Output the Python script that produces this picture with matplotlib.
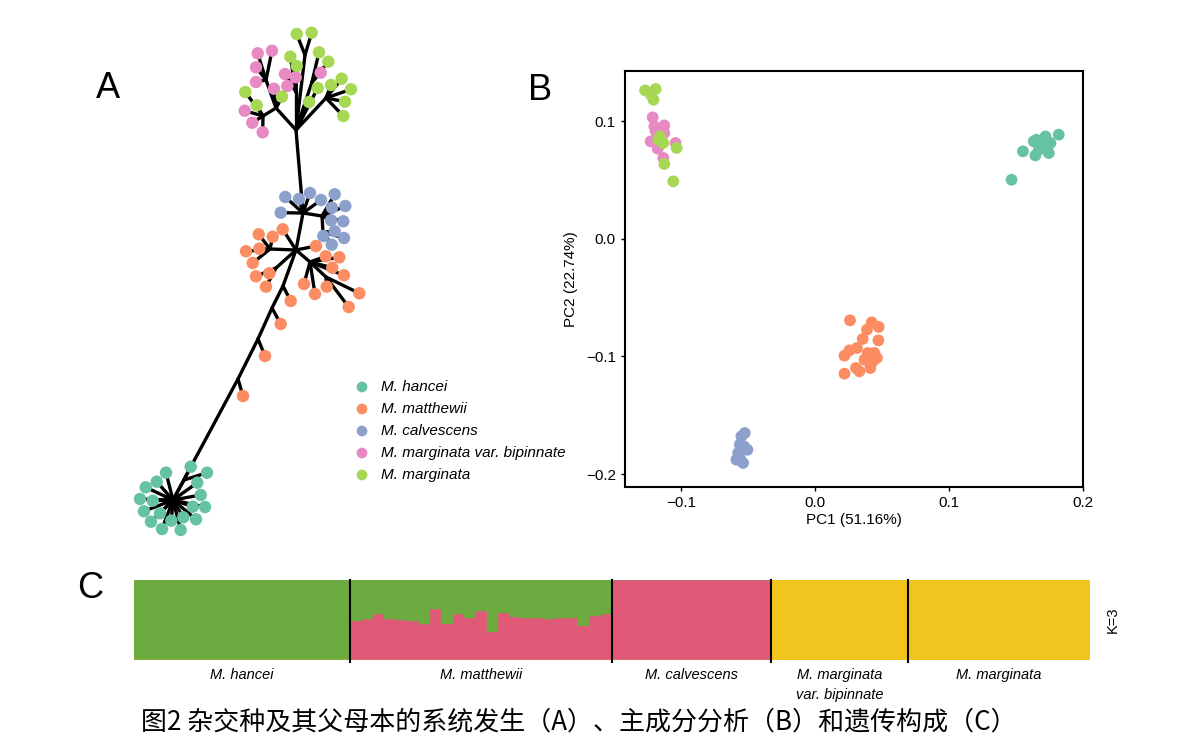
import matplotlib
matplotlib.use("Agg")
import matplotlib.pyplot as plt
import numpy as np

plt.rcParams['font.family'] = ['Liberation Sans', 'Noto Sans CJK SC', 'DejaVu Sans']

# 物种与配色
species = ["M. hancei", "M. matthewii", "M. calvescens",
           "M. marginata var. bipinnate", "M. marginata"]
colors = ["#66c2a5", "#fc8d62", "#8da0cb", "#e78ac3", "#a6d854"]

# ---- A: 系统发育树 (布局坐标) ----
node_names = ["G", "n4", "n3", "n2", "n1", "O", "B", "T", "t1", "t2", "t3",
              "t4", "t5", "t6", "t7", "b1", "b2", "o1", "o2", "o3", "o4", "g1"]
node_x = [173, 238, 258, 272, 283, 296, 303, 296, 305, 296, 326,
          276, 266, 263, 312, 322, 323, 270, 276, 310, 326, 184]
node_y = [500, 379, 339, 308, 286, 250, 213, 130, 55, 92, 98,
          108, 80, 116, 82, 216, 232, 249, 268, 262, 277, 480]
node_parent = [None, "G", "n4", "n3", "n2", "n1", "O", "B", "T", "T", "T",
               "T", "t4", "t4", "T", "B", "b1", "O", "O", "O", "o3", "G"]

tips_hancei = [(190.7, 466.7, "g1"), (207, 472.7, "g1"), (166, 472.7, "G"),
               (156.7, 481.7, "G"), (197.3, 482.7, "G"), (145.7, 487.3, "G"),
               (200.7, 495, "G"), (140, 499, "G"), (152.7, 500.7, "G"),
               (192.7, 506.7, "G"), (205, 507, "G"), (144, 511.3, "G"),
               (160, 513.3, "G"), (183.3, 517.3, "G"), (196, 519.3, "G"),
               (151, 521.7, "G"), (171.3, 520.7, "G"), (162, 529, "G"),
               (180.7, 530, "G")]
tips_matthewii = [(258.7, 234.3, "o1"), (272.7, 236.7, "o1"), (282.7, 229.3, "O"),
                  (259.3, 248.7, "o1"), (246, 251.3, "o1"), (252.7, 263, "o1"),
                  (256, 276.3, "o2"), (269.3, 273.3, "o2"), (266, 286.7, "o2"),
                  (290.7, 301, "n1"), (316, 246, "O"), (325.7, 256.3, "o3"),
                  (339.3, 257.3, "o3"), (332.3, 267.7, "o3"), (344, 275.3, "o3"),
                  (304, 284, "o3"), (315, 294, "o3"), (326.7, 286.7, "o4"),
                  (359.3, 293.3, "o4"), (348.7, 307, "o4"), (280.7, 324, "n2"),
                  (265, 356, "n3"), (243, 396, "n4")]
tips_calvescens = [(285.3, 197, "B"), (299, 199, "B"), (310, 193, "B"),
                   (321, 200, "B"), (334.7, 194.3, "b1"), (280.7, 212.7, "B"),
                   (345.3, 206, "b1"), (332, 207.7, "b1"), (331, 220.3, "b1"),
                   (343.3, 221.3, "b1"), (334.7, 231.3, "b2"), (323.3, 236, "b2"),
                   (344, 238, "b2"), (331.7, 244.7, "b2")]
tips_bipinnate = [(257.7, 53.3, "t5"), (272, 50.7, "t5"), (256, 67.3, "t5"),
                  (285, 74, "t2"), (295.7, 77.3, "t2"), (320.7, 72.7, "t7"),
                  (256, 82, "t5"), (274, 88.7, "t4"), (287.3, 86, "t4"),
                  (244.7, 110.7, "t6"), (252.3, 122.7, "t6"), (262.7, 132.3, "t6")]
tips_marginata = [(296.7, 34, "t1"), (311.7, 32.7, "t1"), (319, 52.3, "t7"),
                  (290.3, 56.7, "t2"), (296.7, 66, "t2"), (328.3, 61.7, "t7"),
                  (341.7, 78.7, "t3"), (351, 89.3, "t3"), (331, 85, "t3"),
                  (345, 101.7, "t3"), (343.3, 116, "t3"), (317.7, 88, "T"),
                  (309, 102, "T"), (282, 96.7, "t4"), (245.3, 92, "t6"),
                  (256.7, 105.3, "t6")]
tree_tips = [tips_hancei, tips_matthewii, tips_calvescens, tips_bipinnate, tips_marginata]

# ---- B: PCA ----
pca_hancei_x = [0.1819, 0.1720, 0.1653, 0.1708, 0.1745, 0.1645, 0.1683, 0.1757,
                0.1552, 0.1467, 0.1671, 0.1732, 0.1633]
pca_hancei_y = [0.0884, 0.0869, 0.0841, 0.0784, 0.0728, 0.0708, 0.0813, 0.0813,
                0.0742, 0.0501, 0.0756, 0.0762, 0.0827]
pca_matthewii_x = [0.0262, 0.0424, 0.0476, 0.0389, 0.0357, 0.0474, 0.0314, 0.0258,
                   0.0221, 0.0394, 0.0444, 0.0370, 0.0431, 0.0414, 0.0221, 0.0307,
                   0.0332, 0.0463]
pca_matthewii_y = [-0.0694, -0.0711, -0.0750, -0.0773, -0.0852, -0.0864, -0.0929,
                   -0.0949, -0.0994, -0.0971, -0.0971, -0.1028, -0.1042, -0.1099,
                   -0.1147, -0.1099, -0.1127, -0.1014]
pca_calvescens_x = [-0.0523, -0.0548, -0.0560, -0.0503, -0.0572, -0.0585, -0.0535,
                    -0.0560, -0.0528]
pca_calvescens_y = [-0.1651, -0.1680, -0.1750, -0.1793, -0.1821, -0.1878, -0.1906,
                    -0.1863, -0.1765]
pca_bipinnate_x = [-0.1210, -0.1197, -0.1123, -0.1123, -0.1225, -0.1172, -0.1039,
                   -0.1130, -0.1187]
pca_bipinnate_y = [0.1031, 0.0954, 0.0963, 0.0898, 0.0827, 0.0765, 0.0813, 0.0686,
                   0.0912]
pca_marginata_x = [-0.1266, -0.1187, -0.1204, -0.1222, -0.1155, -0.1143, -0.1167,
                   -0.1130, -0.1031, -0.1123, -0.1056]
pca_marginata_y = [0.1260, 0.1272, 0.1181, 0.1223, 0.0869, 0.0827, 0.0841, 0.0813,
                   0.0771, 0.0635, 0.0487]
pca_x = [pca_hancei_x, pca_matthewii_x, pca_calvescens_x, pca_bipinnate_x, pca_marginata_x]
pca_y = [pca_hancei_y, pca_matthewii_y, pca_calvescens_y, pca_bipinnate_y, pca_marginata_y]

# ---- C: 遗传构成 (K=3) ----
struct_groups = ["M. hancei", "M. matthewii", "M. calvescens",
                 "M. marginata\nvar. bipinnate", "M. marginata"]
struct_counts = [19, 23, 14, 12, 16]
matthewii_pink = [0.483, 0.509, 0.580, 0.513, 0.500, 0.487, 0.445, 0.640, 0.449,
                  0.580, 0.529, 0.615, 0.351, 0.589, 0.534, 0.525, 0.529, 0.513,
                  0.529, 0.529, 0.427, 0.555, 0.580]
k_colors = ["#6daa3f", "#e05a78", "#f2c41e"]

fig = plt.figure(figsize=(12, 7.5), dpi=100)

# 画布坐标层 (像素空间), 用于树和图例
ax_a = fig.add_axes([0, 0, 1, 1])
ax_a.set_xlim(0, 1200)
ax_a.set_ylim(750, 0)
ax_a.axis("off")

nodes = {n: (x, y, p) for n, x, y, p in zip(node_names, node_x, node_y, node_parent)}
for n, (x, y, p) in nodes.items():
    if p is not None:
        px, py, _ = nodes[p]
        ax_a.plot([px, x], [py, y], color="black", lw=2.4, solid_capstyle="round", zorder=2)
for tips, c in zip(tree_tips, colors):
    for x, y, p in tips:
        px, py, _ = nodes[p]
        ax_a.plot([px, x], [py, y], color="black", lw=2.4, solid_capstyle="round", zorder=2)
    ax_a.scatter([t[0] for t in tips], [t[1] for t in tips], s=80, color=c,
                 edgecolors="none", zorder=3)

# 图例
leg_y = [387, 409, 431, 453, 475]
for yy, name, c in zip(leg_y, species, colors):
    ax_a.scatter([362], [yy], s=60, color=c, edgecolors="none", zorder=3)
    ax_a.text(381, yy, name, fontsize=11, style="italic", va="center", ha="left")

ax_a.text(108, 88, "A", fontsize=26, ha="center", va="center")
ax_a.text(540, 90, "B", fontsize=26, ha="center", va="center")
ax_a.text(90, 588, "C", fontsize=26, ha="center", va="center")

# PCA
ax_b = fig.add_axes([625 / 1200, (750 - 487) / 750, 458 / 1200, 416 / 750])
for xs, ys, c in zip(pca_x, pca_y, colors):
    ax_b.scatter(xs, ys, s=72, color=c, edgecolors="none")
ax_b.set_xlim(-0.1416, 0.1984)
ax_b.set_ylim(-0.211, 0.1425)
ax_b.set_xticks([-0.1, 0.0, 0.1, 0.2])
ax_b.set_yticks([-0.2, -0.1, 0.0, 0.1])
ax_b.tick_params(labelsize=11, length=3, width=1)
for sp in ax_b.spines.values():
    sp.set_linewidth(1.5)
ax_b.set_xlabel("PC1 (51.16%)", fontsize=11, labelpad=2)
ax_b.set_ylabel("PC2 (22.74%)", fontsize=11, labelpad=6)

# 遗传构成
ax_c = fig.add_axes([134 / 1200, 90 / 750, 956 / 1200, 80 / 750])
green_frac = [1.0] * struct_counts[0] + [1 - v for v in matthewii_pink] + [0.0] * struct_counts[2] + [0.0] * (struct_counts[3] + struct_counts[4])
pink_frac = [0.0] * struct_counts[0] + matthewii_pink + [1.0] * struct_counts[2] + [0.0] * (struct_counts[3] + struct_counts[4])
yellow_frac = [0.0] * (struct_counts[0] + struct_counts[1] + struct_counts[2]) + [1.0] * (struct_counts[3] + struct_counts[4])
idx = np.arange(len(green_frac))
ax_c.bar(idx, pink_frac, width=1.0, align="edge", color=k_colors[1], edgecolor=k_colors[1], linewidth=0.3)
ax_c.bar(idx, green_frac, width=1.0, align="edge", bottom=pink_frac, color=k_colors[0], edgecolor=k_colors[0], linewidth=0.3)
ax_c.bar(idx, yellow_frac, width=1.0, align="edge", color=k_colors[2], edgecolor=k_colors[2], linewidth=0.3)
ax_c.set_xlim(0, len(idx))
ax_c.set_ylim(0, 1)
ax_c.axis("off")
bounds = np.cumsum(struct_counts)
starts = np.concatenate([[0], bounds[:-1]])
for b in bounds[:-1]:
    ax_c.plot([b, b], [-0.03, 1.0], color="black", lw=1.5, clip_on=False)
for s0, b, name in zip(starts, bounds, struct_groups):
    ax_c.text((s0 + b) / 2, -0.1, name, fontsize=10.5, style="italic",
              ha="center", va="top", linespacing=1.5)
ax_c.text(len(idx) + 2.0, 0.5, "K=3", fontsize=10.5, rotation=90, ha="center", va="center")

fig.text(579 / 1200, 1 - 722 / 750,
         "图2 杂交种及其父母本的系统发生（A）、主成分分析（B）和遗传构成（C）",
         fontsize=18.7, ha="center", va="center",
         family=['Noto Sans CJK SC', 'DejaVu Sans'])

fig.savefig("out.png", dpi=100)
